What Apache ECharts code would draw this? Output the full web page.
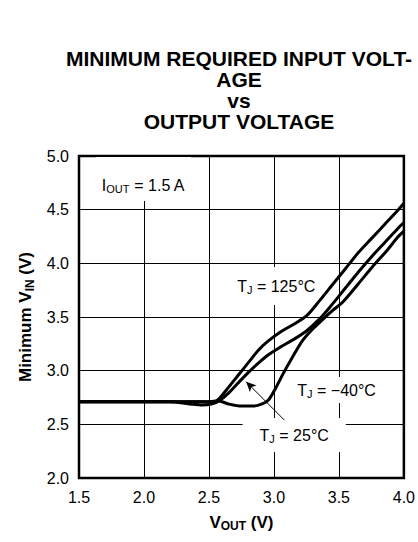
<!DOCTYPE html>
<html>
<head>
<meta charset="utf-8">
<script src="https://cdn.jsdelivr.net/npm/echarts@6/dist/echarts.min.js"></script>
<style>
html,body{margin:0;padding:0;background:#fff;}
#chart{width:418px;height:542px;}
</style>
</head>
<body>
<div id="chart"></div>
<script>
// ---- data ----
const xTickLabels = ['1.5', '2.0', '2.5', '3.0', '3.5', '4.0'];
const yTickLabels = ['2.0', '2.5', '3.0', '3.5', '4.0', '4.5', '5.0'];

const vout125 = [1.5, 2.0, 2.5, 2.56, 2.64, 2.72, 2.80, 2.88, 2.95, 3.05, 3.15, 3.25, 3.35, 3.45, 3.55, 3.65, 3.75, 3.85, 3.95, 4.0];
const vin125  = [2.71, 2.71, 2.71, 2.72, 2.83, 2.95, 3.07, 3.19, 3.27, 3.36, 3.43, 3.51, 3.65, 3.80, 3.95, 4.10, 4.23, 4.36, 4.49, 4.56];

const vout25 = [1.5, 2.0, 2.2, 2.35, 2.45, 2.52, 2.58, 2.65, 2.72, 2.80, 2.88, 2.96, 3.05, 3.15, 3.25, 3.35, 3.45, 3.55, 3.65, 3.75, 3.85, 3.95, 4.0];
const vin25  = [2.71, 2.71, 2.71, 2.69, 2.68, 2.69, 2.72, 2.79, 2.88, 2.98, 3.07, 3.15, 3.22, 3.29, 3.37, 3.48, 3.62, 3.77, 3.92, 4.06, 4.19, 4.32, 4.38];

const voutM40 = [1.5, 2.0, 2.5, 2.57, 2.65, 2.75, 2.84, 2.91, 2.96, 3.01, 3.07, 3.14, 3.22, 3.30, 3.37, 3.45, 3.53, 3.65, 3.76, 3.87, 3.95, 4.0];
const vinM40  = [2.71, 2.71, 2.71, 2.72, 2.69, 2.67, 2.67, 2.69, 2.73, 2.83, 2.97, 3.12, 3.28, 3.39, 3.47, 3.56, 3.64, 3.81, 3.97, 4.12, 4.24, 4.30];

// annotation anchors (data coordinates)
const noteIout = [1.995, 4.786];
const note125 = [3.018, 3.788];
const noteM40 = [3.482, 2.819];
const note25 = [3.156, 2.40];
const arrowFrom = [3.08, 2.54];
const arrowTo = [2.786, 2.897];

const zip = (xs, ys) => xs.map((x, i) => [x, ys[i]]);
const FONT = '"Liberation Sans", Arial, sans-serif';

const chart = echarts.init(document.getElementById('chart'), null, {renderer: 'svg'});

const curveStyle = {color: '#000', width: 3};
const nameRich = {
  b: {fontSize: 17, fontWeight: 'bold', fontFamily: FONT, color: '#000', lineHeight: 20, verticalAlign: 'middle'},
  bs: {fontSize: 12, fontWeight: 'bold', fontFamily: FONT, color: '#000', lineHeight: 20, verticalAlign: 'bottom'}
};

const titleGraphic = {
  type: 'text',
  x: 239,
  y: 48,
  z: 5,
  style: {
    text: 'MINIMUM REQUIRED INPUT VOLT-\nAGE\nvs\nOUTPUT VOLTAGE',
    font: 'bold 21px ' + FONT,
    fill: '#000',
    align: 'center',
    verticalAlign: 'top',
    lineHeight: 21
  }
};

const option = {
  animation: false,
  backgroundColor: '#fff',
  textStyle: {fontFamily: FONT},
  graphic: [titleGraphic],
  grid: {
    left: 79, top: 156, width: 326, height: 322,
    show: true, borderColor: '#000', borderWidth: 2.5, backgroundColor: 'transparent'
  },
  xAxis: {
    type: 'value', min: 1.5, max: 4.0, interval: 0.5,
    axisLine: {show: false}, axisTick: {show: false},
    splitLine: {show: true, lineStyle: {color: '#000', width: 1}},
    axisLabel: {
      color: '#000', fontSize: 16, fontFamily: FONT, margin: 11,
      formatter: v => xTickLabels[Math.round((v - 1.5) / 0.5)]
    },
    name: '{b|V}{bs|OUT}{b| (V)}',
    nameLocation: 'middle', nameGap: 34,
    nameTextStyle: {rich: nameRich}
  },
  yAxis: {
    type: 'value', min: 2.0, max: 5.0, interval: 0.5,
    axisLine: {show: false}, axisTick: {show: false},
    splitLine: {show: true, lineStyle: {color: '#000', width: 1}},
    axisLabel: {
      color: '#000', fontSize: 16, fontFamily: FONT, margin: 10,
      formatter: v => yTickLabels[Math.round((v - 2.0) / 0.5)]
    },
    name: '{b|Minimum V}{bs|IN}{b| (V)}',
    nameLocation: 'middle', nameGap: 43,
    nameTextStyle: {rich: nameRich}
  },
  series: [
    {
      name: 'arrow', type: 'line', z: 2, data: [], silent: true,
      markLine: {
        silent: true,
        symbol: ['none', 'arrow'],
        symbolSize: [7, 10],
        label: {show: false},
        lineStyle: {color: '#000', width: 1, type: 'solid'},
        data: [[{coord: arrowFrom}, {coord: arrowTo}]]
      }
    },
    {name: 'TJ = 125°C', type: 'line', z: 3, showSymbol: false, smooth: 0.3, lineStyle: curveStyle, data: zip(vout125, vin125)},
    {name: 'TJ = 25°C', type: 'line', z: 3, showSymbol: false, smooth: 0.3, lineStyle: curveStyle, data: zip(vout25, vin25)},
    {name: 'TJ = −40°C', type: 'line', z: 3, showSymbol: false, smooth: 0.3, lineStyle: curveStyle, data: zip(voutM40, vinM40)}
  ]
};
chart.setOption(option);

// annotations placed through the chart's own coordinate conversion
const noteRich = {
  m: {fontSize: 16, fontFamily: FONT, fill: '#000', lineHeight: 18, verticalAlign: 'middle'},
  s: {fontSize: 11, fontFamily: FONT, fill: '#000', lineHeight: 18, verticalAlign: 'bottom'}
};
function noteGraphic(pos, text, padding) {
  const p = chart.convertToPixel({gridIndex: 0}, pos);
  return {
    type: 'text', x: p[0], y: p[1], z: 1, silent: true,
    style: {
      text: text, rich: noteRich,
      align: 'center', verticalAlign: 'middle',
      backgroundColor: '#fff', padding: padding
    }
  };
}
chart.setOption({
  graphic: [
    titleGraphic,
    noteGraphic(noteIout, '{m|I}{s|OUT}{m| = 1.5 A}', [20, 6, 6, 6]),
    noteGraphic(note125, '{m|T}{s|J}{m| = 125°C}', [10, 2]),
    noteGraphic(noteM40, '{m|T}{s|J}{m| = −40°C}', [4, 4]),
    noteGraphic(note25, '{m|T}{s|J}{m| = 25°C}', [8, 17])
  ]
});
</script>
</body>
</html>
